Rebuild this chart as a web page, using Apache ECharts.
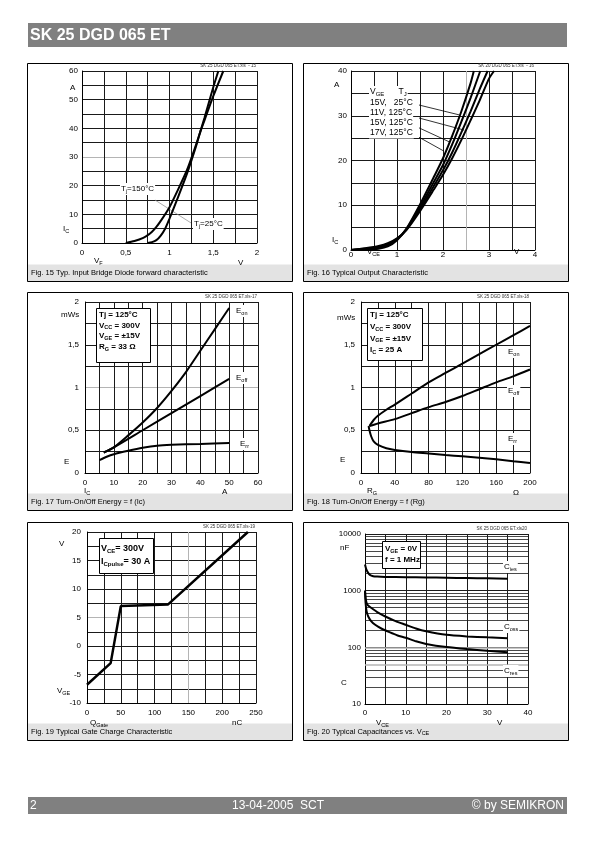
<!DOCTYPE html>
<html><head><meta charset="utf-8">
<script src="https://cdn.jsdelivr.net/npm/echarts@6/dist/echarts.min.js"></script>
<style>html,body{margin:0;padding:0;background:#fff}#c{width:595px;height:842px}</style>
</head><body><div id="c"></div>
<script>
const FONT = '"Liberation Sans", Arial, Helvetica, sans-serif';

// ---------- DATA ----------
// Fig. 15 forward characteristic (V, A)
const fig15Tj150 = [[0.50,0],[0.60,0.7],[0.70,1.8],[0.76,2.9],[0.80,3.9],[0.85,5.6],[0.90,7.7],[1.00,12.5],[1.10,18.8],[1.20,25.5],[1.30,34.0],[1.35,38.6],[1.40,42.8],[1.50,51.2],[1.615,60]];
const fig15Tj25  = [[0.75,0],[0.80,0.3],[0.85,1.0],[0.90,2.6],[0.95,5.0],[1.00,8.5],[1.10,16.2],[1.20,24.2],[1.30,33.4],[1.35,38.6],[1.40,43.7],[1.50,54.3],[1.558,60]];
// Fig. 16 output characteristic (V, A)
const fig16A = [[0,0],[0.3,0.1],[0.6,0.3],[0.8,0.8],[1.0,2.2],[1.2,4.7],[1.5,10.2],[1.8,16.3],[2.0,20.5],[2.2,25.5],[2.4,31.0],[2.6,37.3],[2.67,40]];
const fig16B = [[0,0],[0.3,0.2],[0.6,0.5],[0.8,1.1],[1.0,2.4],[1.2,4.6],[1.5,9.6],[1.8,15.2],[2.0,19.0],[2.2,23.6],[2.4,28.7],[2.6,34.0],[2.81,40]];
const fig16C = [[0,0],[0.3,0.3],[0.6,0.7],[0.8,1.3],[1.0,2.5],[1.2,4.5],[1.5,9.1],[1.8,14.3],[2.0,17.8],[2.2,21.8],[2.4,26.3],[2.6,31.0],[2.8,36.0],[2.97,40]];
const fig16D = [[0,0],[0.3,0.4],[0.6,0.9],[0.8,1.5],[1.0,2.6],[1.2,4.4],[1.5,8.7],[1.8,13.5],[2.0,16.8],[2.2,20.5],[2.4,24.6],[2.6,29.0],[2.8,33.5],[3.0,38.3],[3.11,40]];
// Fig. 17 energy vs Ic (A, mWs)
const fig17Eon  = [[6.5,0.24],[10,0.30],[15,0.44],[20,0.59],[25,0.76],[30,0.96],[35,1.18],[40,1.43],[45,1.68],[50,1.93]];
const fig17Eoff = [[6.5,0.24],[10,0.30],[20,0.50],[30,0.70],[40,0.90],[50,1.10]];
const fig17Err  = [[5,0.15],[7.5,0.19],[10,0.22],[15,0.26],[20,0.295],[25,0.32],[30,0.33],[40,0.34],[50,0.35]];
// Fig. 18 energy vs Rg (Ohm, mWs)
const fig18Eon  = [[10,0.55],[15,0.62],[20,0.67],[30,0.74],[40,0.80],[60,0.93],[80,1.06],[100,1.17],[120,1.28],[140,1.39],[160,1.50],[180,1.61],[200,1.72]];
const fig18Eoff = [[10,0.55],[20,0.58],[40,0.63],[60,0.70],[80,0.77],[100,0.83],[120,0.90],[140,0.98],[160,1.06],[180,1.13],[200,1.21]];
const fig18Err  = [[9,0.55],[10,0.50],[12,0.43],[15,0.37],[20,0.33],[30,0.29],[40,0.27],[60,0.245],[80,0.228],[100,0.21],[120,0.195],[140,0.178],[160,0.16],[180,0.138],[200,0.117]];
// Fig. 19 gate charge (nC, V)
const fig19Vge = [[0,-6.8],[35,-3],[50,7],[120,7.3],[238,20]];
// Fig. 20 capacitances (V, nF as labelled)
const fig20Cies = [[0,2900],[0.3,2400],[0.7,2100],[1.2,1900],[2,1800],[3,1770],[5,1750],[10,1730],[15,1710],[20,1690],[25,1670],[30,1650],[35,1630]];
const fig20Coss = [[0,1000],[0.2,700],[0.5,580],[1,530],[2,470],[3,420],[5,350],[7.5,290],[10,250],[12.5,215],[15,192],[20,166],[25,156],[30,150],[35,145]];
const fig20Cres = [[0,1000],[0.15,600],[0.4,430],[0.8,350],[1.5,290],[2.5,250],[4,215],[6,185],[8,162],[10,148],[12.5,128],[15,115],[20,101],[25,93],[30,87],[35,82]];
const fig20MinorLines = [20,30,40,60,70,80,90,200,300,400,500,600,700,800,900,2000,3000,4000,5000,6000,7000,8000,9000];
const fig20GreyLines = [50,100];

// ---------- HELPERS ----------
const fmt = step => v => {
  const r = v / step;
  return Math.abs(r - Math.round(r)) < 1e-6 ? String(+v.toFixed(4)).replace('.', ',') : '';
};
function gridColors(n, greyIdx) {
  const a = [];
  for (let i = 0; i < n; i++) a.push(greyIdx.includes(i) ? '#b4b4b4' : '#1a1a1a');
  return a;
}
function axis(gi, min, max, step, labelStep, margin, greyIdx, extra) {
  const n = Math.round((max - min) / step) + 1;
  return Object.assign({
    type: 'value', gridIndex: gi, min, max, interval: step,
    axisLine: {show: true, onZero: false, lineStyle: {color: '#000', width: 1}},
    axisTick: {show: false},
    splitLine: {show: true, lineStyle: {color: gridColors(n, greyIdx || []), width: 1}},
    axisLabel: {formatter: fmt(labelStep), color: '#000', fontSize: 8, fontFamily: FONT, margin: margin}
  }, extra || {});
}
function line(xi, data, extra) {
  return Object.assign({
    type: 'line', xAxisIndex: xi, yAxisIndex: xi, data: data, showSymbol: false, symbol: 'none',
    smooth: 0.25, silent: true, animation: false,
    lineStyle: {color: '#000', width: 2}, z: 5
  }, extra || {});
}
function leader(pairs, color, width) {
  return {
    silent: true, animation: false, symbol: ['none', 'none'],
    lineStyle: {color: color, width: width, type: 'solid'}, label: {show: false},
    data: pairs.map(p => [{coord: p[0]}, {coord: p[1]}])
  };
}
const RICH = {
  n: {fontSize: 8, fontFamily: FONT, color: '#000'},
  s: {fontSize: 5.5, fontFamily: FONT, color: '#000', verticalAlign: 'bottom', padding: [4, 0, 0, 0]},
  m: {fontSize: 8.5, fontFamily: FONT, color: '#000'},
  ms: {fontSize: 6, fontFamily: FONT, color: '#000', verticalAlign: 'bottom', padding: [4, 0, 0, 0]},
  b: {fontSize: 8, fontFamily: FONT, color: '#000', fontWeight: 'bold'},
  bs: {fontSize: 5.5, fontFamily: FONT, color: '#000', fontWeight: 'bold', verticalAlign: 'bottom', padding: [4, 0, 0, 0]},
  B: {fontSize: 9, fontFamily: FONT, color: '#000', fontWeight: 'bold'},
  Bs: {fontSize: 6, fontFamily: FONT, color: '#000', fontWeight: 'bold', verticalAlign: 'bottom', padding: [4, 0, 0, 0]},
  c: {fontSize: 7.5, fontFamily: FONT, color: '#000'},
  cs: {fontSize: 5.5, fontFamily: FONT, color: '#000', verticalAlign: 'bottom', padding: [3, 0, 0, 0]}
};
function T(x, y, text, o) {
  o = o || {};
  return {
    type: 'text', x: x, y: y, z: o.z || 60, silent: true,
    style: Object.assign({
      text: text, rich: RICH, font: (o.bold ? 'bold ' : '') + (o.size || 8) + 'px ' + FONT,
      fill: o.fill || '#000', align: o.align || 'left', verticalAlign: o.va || 'middle'
    }, o.bg ? {backgroundColor: '#fff', padding: o.pad || [1, 1]} : {})
  };
}
function R(x, y, w, h, fill, stroke, z) {
  return {type: 'rect', z: z || 1, silent: true, shape: {x: x, y: y, width: w, height: h},
    style: {fill: fill || 'none', stroke: stroke || 'none', lineWidth: 1}};
}

// ---------- LAYOUT ----------
const grids = [
  {left: 82, top: 71, width: 175, height: 172},
  {left: 351, top: 71, width: 184, height: 179},
  {left: 85, top: 302, width: 173, height: 171},
  {left: 361, top: 302, width: 169, height: 171},
  {left: 87, top: 532, width: 169, height: 171},
  {left: 365, top: 534, width: 163, height: 170}
];
const boxCols = [27.5, 303.5], boxRows = [63.5, 292.5, 522.5], BW = 265, BH = 218;
const captions = [
  'Fig. 15 Typ. Input Bridge Diode forward characteristic',
  'Fig. 16 Typical Output Characteristic',
  'Fig. 17 Turn-On/Off Energy = f (Ic)',
  'Fig. 18 Turn-On/Off Energy = f (Rg)',
  'Fig. 19 Typical Gate Charge Characteristic',
  '{c|Fig. 20 Typical Capacitances vs. V}{cs|CE}'
];
const ids = ['SK 25 DGD 065 ET.xls  - 15', 'SK 20 DGD 065 ET.xls  - 16', 'SK 25 DGD 065 ET.xls-17',
  'SK 25 DGD 065 ET.xls-18', 'SK 25 DGD 065 ET.xls-19', 'SK 25 DGD 065 ET.xls20'];

const graphic = [];
graphic.push(R(28, 23, 539, 24, '#808080', null, 1));
graphic.push(T(30, 35.5, 'SK 25 DGD 065 ET', {bold: true, size: 16, fill: '#fff'}));
graphic.push(R(28, 797, 539, 17, '#808080', null, 1));
graphic.push(T(30, 806, '2', {size: 12, fill: '#fff'}));
graphic.push(T(278, 806, '13-04-2005  SCT', {size: 12, fill: '#fff', align: 'center'}));
graphic.push(T(564, 806, '\u00a9 by SEMIKRON', {size: 12, fill: '#fff', align: 'right'}));
for (let i = 0; i < 6; i++) {
  const bx = boxCols[i % 2], by = boxRows[Math.floor(i / 2)];
  graphic.push(R(bx, by + BH - 17, BW, 17, '#e3e3e3', null, 1));
  graphic.push(R(bx, by, BW, BH, null, '#000', 2));
  graphic.push(T(bx + 3.5, by + BH - 8.5, captions[i], {size: 7.5}));
  const g = grids[i];
  graphic.push(T(g.left + g.width - 1, g.top - 5, ids[i], {size: 4.5, align: 'right', fill: '#333'}));
}
// Fig 15 texts
graphic.push(T(70, 88, 'A'), T(63, 229, '{n|I}{s|C}'), T(94, 261, '{n|V}{s|F}'), T(238, 263, 'V'));
graphic.push(T(120, 189, '{n|T}{s|j}{n|=150\u00b0C}', {bg: true}), T(193, 224, '{n|T}{s|j}{n|=25\u00b0C}', {bg: true}));
// Fig 16 texts
graphic.push(T(334, 85, 'A'), T(332, 240, '{n|I}{s|C}'), T(367, 252, '{n|V}{s|CE}'), T(514, 252, 'V'));
graphic.push(T(369, 92, '{m|V}{ms|GE}{m|      T}{ms|J}', {bg: true}));
graphic.push(T(369, 103, '{m|15V,   25\u00b0C}', {bg: true}));
graphic.push(T(369, 113, '{m|11V, 125\u00b0C}', {bg: true}));
graphic.push(T(369, 123, '{m|15V, 125\u00b0C}', {bg: true}));
graphic.push(T(369, 133, '{m|17V, 125\u00b0C}', {bg: true}));
// Fig 17 texts
graphic.push(T(61, 315, 'mWs'), T(64, 462, 'E'), T(84, 491, '{n|I}{s|C}'), T(222, 492, 'A'));
graphic.push(R(96.5, 308.5, 54, 54, '#fff', '#000', 50));
graphic.push(T(99, 315, '{b|Tj = 125\u00b0C}'), T(99, 325.5, '{b|V}{bs|CC}{b| = 300V}'),
  T(99, 336, '{b|V}{bs|GE}{b| = \u00b115V}'), T(99, 347, '{b|R}{bs|G}{b| = 33 \u03a9}'));
graphic.push(T(235, 311, '{n|E}{s|on}', {bg: true}), T(235, 378, '{n|E}{s|off}', {bg: true}), T(239, 444, '{n|E}{s|rr}', {bg: true}));
// Fig 18 texts
graphic.push(T(337, 318, 'mWs'), T(340, 460, 'E'), T(367, 491, '{n|R}{s|G}'), T(513, 493, '\u03a9'));
graphic.push(R(367.5, 308.5, 55, 52, '#fff', '#000', 50));
graphic.push(T(370, 315, '{b|Tj = 125\u00b0C}'), T(370, 327, '{b|V}{bs|CC}{b| = 300V}'),
  T(370, 338.5, '{b|V}{bs|GE}{b| = \u00b115V}'), T(370, 350, '{b|I}{bs|C}{b| = 25 A}'));
graphic.push(T(507, 352, '{n|E}{s|on}', {bg: true}), T(507, 391, '{n|E}{s|off}', {bg: true}), T(507, 439, '{n|E}{s|rr}', {bg: true}));
// Fig 19 texts
graphic.push(T(59, 544, 'V'), T(57, 691, '{n|V}{s|GE}'), T(90, 723, '{n|Q}{s|Gate}'), T(232, 723, 'nC'));
graphic.push(R(99.5, 538.5, 54, 35, '#fff', '#000', 50));
graphic.push(T(101, 549, '{B|V}{Bs|CE}{B|= 300V}'), T(101, 562, '{B|I}{Bs|Cpulse}{B|= 30 A}'));
// Fig 20 texts
graphic.push(T(340, 548, 'nF'), T(341, 683, 'C'), T(376, 723, '{n|V}{s|CE}'), T(497, 723, 'V'));
graphic.push(R(382.5, 541.5, 38, 27, '#fff', '#000', 50));
graphic.push(T(385, 549, '{b|V}{bs|GE}{b| = 0V}'), T(385, 560, '{b|f = 1 MHz}'));
graphic.push(T(503, 567, '{n|C}{s|ies}', {bg: true}), T(503, 627, '{n|C}{s|oss}', {bg: true}), T(503, 671, '{n|C}{s|res}', {bg: true}));

// ---------- AXES ----------
const xAxis = [
  axis(0, 0, 2, 0.25, 0.5, 6),
  axis(1, 0, 4, 0.5, 1, 1, [5]),
  axis(2, 0, 60, 5, 10, 6),
  axis(3, 0, 200, 20, 40, 6),
  axis(4, 0, 250, 25, 50, 6, [6]),
  axis(5, 0, 40, 5, 10, 5)
];
const yAxis = [
  axis(0, 0, 60, 5, 10, 4, [6]),
  axis(1, 0, 40, 5, 10, 4),
  axis(2, 0, 2, 0.25, 0.5, 6, [4]),
  axis(3, 0, 2, 0.25, 0.5, 6),
  axis(4, -10, 20, 2.5, 5, 6, [6]),
  {type: 'log', gridIndex: 5, min: 10, max: 10000, logBase: 10,
    axisLine: {show: true, onZero: false, lineStyle: {color: '#000', width: 1}},
    axisTick: {show: false},
    splitLine: {show: true, lineStyle: {color: '#1a1a1a', width: 1}},
    axisLabel: {color: '#000', fontSize: 8, fontFamily: FONT, margin: 4, formatter: v => String(Math.round(v))}}
];

// ---------- SERIES ----------
const series = [
  line(0, fig15Tj150, {markLine: leader([[[0.834, 15], [1.246, 7]]], '#888', 0.7)}),
  line(0, fig15Tj25),
  line(1, fig16A, {markLine: leader([
    [[1.478, 32.4], [2.35, 30.2]],
    [[1.478, 29.5], [2.46, 26.8]],
    [[1.478, 27.3], [2.13, 24.2]],
    [[1.478, 25.2], [2.02, 22.1]]], '#000', 0.8)}),
  line(1, fig16B), line(1, fig16C), line(1, fig16D),
  line(2, fig17Eon), line(2, fig17Eoff), line(2, fig17Err),
  line(3, fig18Eon), line(3, fig18Eoff), line(3, fig18Err),
  line(4, fig19Vge, {smooth: false, lineStyle: {color: '#000', width: 2.5}}),
  line(5, fig20Cies, {smooth: 0.2, markLine: {
    silent: true, animation: false, symbol: ['none', 'none'], label: {show: false},
    lineStyle: {color: '#1a1a1a', width: 0.8, type: 'solid'},
    data: fig20MinorLines.map(v => ({yAxis: v})).concat(
      fig20GreyLines.map(v => ({yAxis: v, lineStyle: {color: '#b4b4b4', width: 1.5, type: 'solid'}})))
  }}),
  line(5, fig20Coss, {smooth: 0.2}),
  line(5, fig20Cres, {smooth: 0.2})
];

const chart = echarts.init(document.getElementById('c'), null, {renderer: 'canvas'});
chart.setOption({
  animation: false,
  backgroundColor: '#fff',
  textStyle: {fontFamily: FONT},
  grid: grids.map(g => Object.assign({containLabel: false}, g)),
  xAxis: xAxis,
  yAxis: yAxis,
  series: series,
  graphic: graphic
});
</script>
</body></html>
